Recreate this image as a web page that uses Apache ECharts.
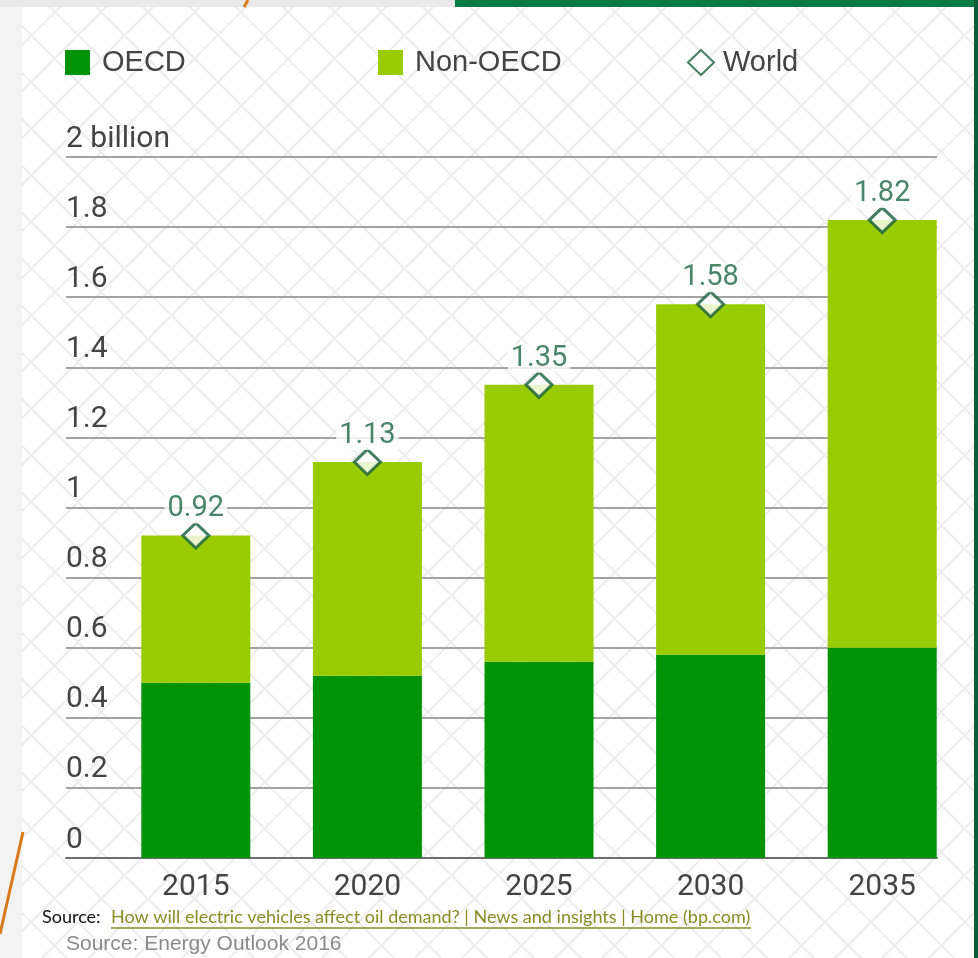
<!DOCTYPE html>
<html>
<head>
<meta charset="utf-8">
<script src="https://cdn.jsdelivr.net/npm/echarts@6/dist/echarts.min.js"></script>
<style>
  html, body { margin: 0; padding: 0; width: 978px; height: 958px; overflow: hidden; background: #f3f3f3; }
  #card {
    position: absolute; left: 22px; top: 7px; width: 952px; height: 951px;
    background-color: #ffffff;
    background-image:
      repeating-linear-gradient(45deg, transparent 0px, transparent 31px, #eeeeee 31px, #eeeeee 33px),
      repeating-linear-gradient(-45deg, transparent 0px, transparent 31px, #eeeeee 31px, #eeeeee 33px);
  }
  #main { position: absolute; left: 0; top: 0; width: 978px; height: 958px; }
</style>
</head>
<body>
<div id="card"></div>
<div id="main"></div>
<script>
// ---- data ----
const years = ['2015', '2020', '2025', '2030', '2035'];
const oecd = [0.50, 0.52, 0.56, 0.58, 0.60];
const nonOecd = [0.42, 0.61, 0.79, 1.00, 1.22];
const world = [0.92, 1.13, 1.35, 1.58, 1.82];
const yTickLabels = { '2': '2 billion' };
const sourceLead = 'Source: ';
const sourceLink = 'How will electric vehicles affect oil demand? | News and insights | Home (bp.com)';
const sourceNote = 'Source: Energy Outlook 2016';

// ---- styles ----
const C_OECD = '#009305';
const C_NON = '#99cc00';
const C_WORLD = '#145f3b';
const C_LABEL = '#1a6645';
const FONT = 'Roboto, "Liberation Sans", sans-serif';
const LEG_FONT = '"Liberation Sans", Arial, sans-serif';
const SRC_FONT = 'Lato, "DejaVu Sans", sans-serif';

function measure(text, font) {
  const c = document.createElement('canvas').getContext('2d');
  c.font = font;
  return c.measureText(text).width;
}
const linkX = 111, linkRight = 751;
const baseW = measure(sourceLink, '16px ' + SRC_FONT);
const srcSize = Math.max(10, Math.min(22, 16 * (linkRight - linkX) / baseW));

const chart = echarts.init(document.getElementById('main'), null, { renderer: 'canvas' });

const legendText = { fontSize: 29, color: '#444', fontFamily: LEG_FONT, padding: [0, 0, 0, 7] };
const option = {
  backgroundColor: 'transparent',
  animation: false,
  legend: [
    { data: [{ name: 'OECD', icon: 'rect' }], left: 65, top: 48, padding: 0, itemWidth: 25, itemHeight: 25,
      textStyle: legendText },
    { data: [{ name: 'Non-OECD', icon: 'rect' }], left: 378, top: 48, padding: 0, itemWidth: 25, itemHeight: 25,
      textStyle: legendText },
    { data: [{ name: 'World', icon: 'diamond' }], left: 687, top: 48, padding: 0, itemWidth: 26, itemHeight: 25,
      textStyle: Object.assign({}, legendText, { padding: [0, 0, 0, 4] }) }
  ],
  grid: [
    { left: 66, right: 41, top: 157, bottom: 100, containLabel: false },
    { left: 110, right: 10, top: 157, bottom: 100, containLabel: false }
  ],
  xAxis: [
    { gridIndex: 0, type: 'value', min: 0, max: 1, show: true,
      axisLine: { show: true, lineStyle: { color: '#6e6e6e', width: 2 } },
      axisTick: { show: false }, axisLabel: { show: false }, splitLine: { show: false } },
    { gridIndex: 1, type: 'category', data: years,
      axisLine: { show: false }, axisTick: { show: false },
      axisLabel: { fontSize: 30, color: '#444', fontFamily: FONT, margin: 14 } }
  ],
  yAxis: [
    { gridIndex: 0, type: 'value', min: 0, max: 2, interval: 0.2,
      axisLine: { show: false }, axisTick: { show: false },
      splitLine: { show: true, lineStyle: { color: '#a3a3a3', width: 2 } },
      axisLabel: {
        inside: true, margin: 0, align: 'left', verticalAlign: 'bottom',
        padding: [0, 0, 3, 0],
        fontSize: 30, color: '#444', fontFamily: FONT,
        formatter: v => {
          const k = String(Math.round(v * 10) / 10);
          return yTickLabels[k] || k;
        }
      } },
    { gridIndex: 1, type: 'value', min: 0, max: 2, interval: 0.2, show: false,
      splitLine: { show: false } }
  ],
  series: [
    { name: 'OECD', type: 'bar', stack: 'total', xAxisIndex: 1, yAxisIndex: 1,
      barWidth: 109, data: oecd, itemStyle: { color: C_OECD }, z: 3 },
    { name: 'Non-OECD', type: 'bar', stack: 'total', xAxisIndex: 1, yAxisIndex: 1,
      barWidth: 109, data: nonOecd, itemStyle: { color: C_NON }, z: 3 },
    { name: 'World', type: 'scatter', xAxisIndex: 1, yAxisIndex: 1, data: world,
      symbol: 'diamond', symbolSize: [26, 25], z: 5,
      itemStyle: { color: '#ffffff', borderColor: C_WORLD, borderWidth: 3 },
      label: { show: true, position: 'top', distance: -2, fontSize: 29, color: C_LABEL,
        fontFamily: FONT, backgroundColor: '#ffffff', padding: [0, 3],
        formatter: p => p.value.toFixed(2) } }
  ],
  graphic: [
    // decorative frame
    { type: 'rect', z: -10, shape: { x: 0, y: 0, width: 978, height: 7 }, style: { fill: '#e9e9e9' } },
    { type: 'rect', z: -9, shape: { x: 455, y: 0, width: 523, height: 7 }, style: { fill: '#087a43' } },
    { type: 'rect', z: -9, shape: { x: 974, y: 0, width: 4, height: 958 }, style: { fill: '#0b5e3a' } },
    { type: 'line', z: -8, shape: { x1: 248, y1: 0, x2: 244, y2: 7 }, style: { stroke: '#d9791a', lineWidth: 3 } },
    { type: 'line', z: 1, shape: { x1: 23, y1: 832, x2: 0, y2: 934 }, style: { stroke: '#d9791a', lineWidth: 3 } },
    // sources
    { type: 'text', left: 42, top: 908, style: { text: sourceLead, font: srcSize + 'px ' + SRC_FONT, fill: '#111' } },
    { type: 'text', left: linkX, top: 908, style: { text: sourceLink, font: srcSize + 'px ' + SRC_FONT, fill: '#8b8b24' } },
    { type: 'line', shape: { x1: linkX, y1: 928, x2: linkRight, y2: 928 }, style: { stroke: '#8b8b24', lineWidth: 1.5 } },
    { type: 'text', left: 66, top: 934, style: { text: sourceNote, font: '21px ' + LEG_FONT, fill: '#8a8a8a' } }
  ]
};
chart.setOption(option);
</script>
</body>
</html>
